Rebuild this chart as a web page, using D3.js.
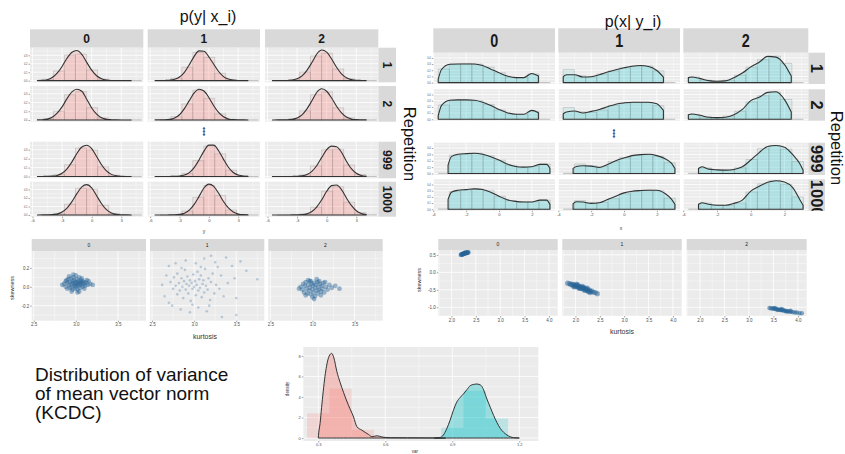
<!DOCTYPE html>
<html>
<head>
<meta charset="utf-8">
<script src="https://cdn.jsdelivr.net/npm/d3@7"></script>
<style>
  body { margin: 0; background: #fff; }
  svg { display: block; }
</style>
</head>
<body>
<svg id="chart" width="845" height="454"></svg>
<script>
// ---------- data ----------
const colLabels = ["0", "1", "2"];
const repLabels = ["1", "2", "999", "1000"];

// p(y | x_i): density of y on a common grid, one row per repetition, [col0, col1, col2]
const yGrid = [-5.5, -5, -4.5, -4, -3.5, -3, -2.5, -2, -1.5, -1, -0.5, 0, 0.5, 1, 1.5, 2, 2.5, 3, 3.5, 4];
const pyxRep1 = [
  [.002, .003, .011, .036, .088, .168, .265, .336, .356, .310, .216, .124, .058, .022, .007, .002, .001, .0005, 0, 0],
  [.0003, .001, .002, .005, .015, .042, .098, .188, .288, .352, .348, .282, .194, .108, .048, .018, .006, .002, .001, 0],
  [0, .0005, .001, .002, .007, .021, .056, .122, .214, .315, .362, .338, .256, .158, .080, .034, .012, .004, .002, .001]
];
const pyxRep2 = [
  [.001, .003, .010, .030, .078, .150, .245, .322, .352, .330, .238, .138, .068, .026, .009, .003, .001, 0, 0, 0],
  [.0005, .001, .002, .007, .022, .060, .130, .222, .310, .352, .332, .258, .164, .086, .036, .012, .004, .002, .001, 0],
  [0, .0005, .001, .002, .008, .023, .059, .128, .220, .318, .358, .330, .252, .158, .082, .035, .012, .004, .002, .001]
];
const pyxRep999 = [
  [.0005, .001, .002, .004, .012, .036, .086, .164, .258, .330, .350, .312, .224, .132, .062, .024, .008, .003, .001, .0005],
  [0, 0, .0003, .001, .002, .005, .016, .044, .100, .186, .284, .352, .352, .288, .192, .104, .045, .016, .005, .002],
  [0, 0, 0, .0005, .001, .002, .007, .022, .058, .124, .214, .300, .340, .334, .272, .172, .088, .036, .012, .003]
];
const pyxRep1000 = [
  [.0005, .001, .002, .004, .011, .034, .080, .156, .250, .330, .356, .318, .226, .132, .062, .024, .008, .003, .001, .0005],
  [0, 0, .0005, .001, .002, .007, .021, .056, .124, .218, .316, .362, .336, .254, .158, .082, .035, .012, .004, .002],
  [0, 0, 0, .0005, .001, .002, .004, .014, .041, .096, .178, .278, .344, .352, .298, .200, .112, .050, .018, .005]
];
// histogram of y: bins start at -5.0, width 1.12
const yBinStart = -5.0, yBinWidth = 1.12;
const histYRep1 = [
  [.016, .114, .302, .313, .126, .019, .001, 0, 0],
  [.002, .028, .157, .334, .275, .087, .010, .001, 0],
  [.001, .013, .101, .292, .324, .138, .023, .001, 0]
];
const histYRep2 = [
  [.013, .098, .290, .325, .142, .024, .002, 0, 0],
  [.003, .038, .184, .342, .248, .070, .008, 0, 0],
  [.001, .014, .104, .290, .322, .140, .024, .002, 0]
];
const histYRep999 = [
  [.001, .021, .132, .319, .297, .108, .015, .001, 0],
  [0, .003, .035, .178, .342, .254, .072, .008, 0],
  [0, .001, .018, .119, .300, .305, .128, .022, .001]
];
const histYRep1000 = [
  [.001, .019, .126, .313, .302, .113, .016, .001, 0],
  [0, .004, .047, .206, .345, .228, .058, .006, 0],
  [0, .001, .011, .091, .280, .331, .150, .027, .002]
];

// p(x | y_i)
const xGridA = [-3.7, -3.5, -3.0, -2.5, -2.0, -1.5, -1.0, -0.5, 0, 0.5, 1.0, 1.5, 2.0, 2.4];
const xGridB = [-3.1, -2.9, -2.5, -2.0, -1.5, -1.0, -0.5, 0, 0.5, 1.0, 1.5, 2.0, 2.5, 2.9, 3.1];
const pxyRep1 = [
  [.053, .212, .297, .302, .302, .302, .276, .217, .159, .106, .080, .080, .148, .106],
  [.095, .127, .127, .090, .095, .127, .170, .207, .239, .265, .276, .260, .196, .090],
  [.080, .090, .064, .032, .021, .027, .080, .154, .254, .329, .424, .413, .292, .106]
];
const pxyRep2 = [
  [.053, .223, .307, .313, .313, .307, .276, .223, .159, .106, .080, .080, .143, .106],
  [.090, .117, .133, .101, .127, .159, .201, .244, .265, .276, .276, .276, .249, .143],
  [.074, .085, .064, .032, .027, .032, .074, .159, .302, .355, .435, .445, .318, .117]
];
const pxyRep999 = [
  [.133, .265, .302, .313, .318, .302, .265, .212, .148, .111, .101, .106, .143, .143, .080],
  [.080, .111, .122, .117, .095, .143, .201, .244, .281, .297, .302, .281, .233, .159, .080],
  [.080, .106, .069, .058, .053, .064, .106, .212, .329, .424, .440, .413, .292, .159, .053]
];
const pxyRep1000 = [
  [.159, .276, .307, .318, .329, .318, .276, .212, .154, .127, .117, .117, .148, .148, .080],
  [.090, .122, .117, .095, .106, .159, .212, .265, .292, .302, .307, .307, .254, .159, .080],
  [.080, .106, .080, .064, .064, .095, .148, .292, .371, .435, .461, .440, .345, .159, .064]
];
// histogram of x: bins start at -3.7, width 0.682
const xBinStart = -3.7, xBinWidth = 0.682;
const histXRep1 = [
  [.22, .30, .31, .30, .25, .16, .09, .08, .14, 0],
  [.21, .11, .09, .14, .19, .24, .27, .27, .19, 0],
  [.09, .04, .02, .04, .12, .25, .37, .43, .31, 0]
];
const histXRep2 = [
  [.23, .31, .31, .30, .24, .15, .09, .08, .13, 0],
  [.19, .12, .11, .15, .22, .26, .27, .27, .22, 0],
  [.08, .04, .02, .05, .13, .28, .38, .44, .32, 0]
];
const histXRep999 = [
  [.005, .29, .31, .32, .28, .21, .13, .10, .11, .15],
  [.003, .15, .12, .11, .19, .25, .29, .30, .27, .17],
  [.003, .09, .06, .05, .09, .22, .39, .44, .38, .19]
];
const histXRep1000 = [
  [.006, .29, .31, .33, .30, .21, .14, .12, .12, .15],
  [.003, .14, .11, .11, .17, .25, .29, .31, .30, .18],
  [.003, .10, .07, .06, .10, .28, .41, .46, .40, .20]
];

// kurtosis / skewness of y per x class
const kurtSkewY0 = [[2.86,0.03],[2.88,0.06],[2.88,0.00],[2.90,0.04],[2.90,-0.02],[2.91,0.08],[2.92,0.02],[2.93,0.05],[2.93,-0.01],[2.94,0.09],[2.95,0.03],[2.95,0.00],[2.96,0.06],[2.96,-0.03],[2.97,0.04],[2.97,0.10],[2.98,0.01],[2.98,0.07],[2.99,0.03],[2.99,-0.02],[3.00,0.05],[3.00,0.00],[3.01,0.08],[3.01,0.02],[3.02,0.04],[3.02,-0.03],[3.03,0.06],[3.03,0.01],[3.04,0.10],[3.04,0.03],[3.05,0.05],[3.05,-0.01],[3.06,0.02],[3.06,0.07],[3.07,0.04],[3.08,0.00],[3.08,0.06],[3.09,0.03],[3.10,0.05],[3.11,0.01],[3.12,0.04],[3.14,0.02],[3.15,0.06],[3.17,0.03],[3.20,0.02],[2.84,0.02],[2.92,0.11],[3.00,0.12],[3.02,-0.06],[2.95,-0.05],[3.07,0.09],[3.10,-0.02],[2.89,0.07],[3.13,0.07],[2.97,0.13],[3.04,-0.05]];
const kurtSkewY1 = [[2.72,0.05],[2.75,-0.02],[2.76,0.10],[2.78,0.01],[2.80,-0.08],[2.80,0.14],[2.82,0.04],[2.83,-0.04],[2.85,0.09],[2.86,0.00],[2.87,-0.12],[2.88,0.06],[2.89,0.18],[2.90,-0.03],[2.91,0.03],[2.92,0.11],[2.93,-0.07],[2.94,0.01],[2.95,0.07],[2.96,-0.15],[2.97,0.04],[2.98,-0.02],[2.99,0.13],[3.00,0.00],[3.01,0.06],[3.02,-0.09],[3.03,0.02],[3.04,0.16],[3.05,-0.04],[3.06,0.08],[3.07,-0.01],[3.08,0.12],[3.09,-0.11],[3.10,0.03],[3.11,0.07],[3.12,-0.06],[3.13,0.19],[3.14,0.01],[3.16,-0.03],[3.17,0.09],[3.19,-0.14],[3.20,0.05],[3.22,0.14],[3.24,-0.07],[3.26,0.02],[3.28,0.21],[3.30,-0.02],[2.62,0.02],[2.65,-0.10],[2.67,0.12],[2.70,0.22],[2.70,-0.17],[2.74,-0.20],[2.78,0.25],[2.84,-0.24],[2.90,0.28],[2.95,-0.27],[3.02,0.25],[3.05,-0.22],[3.12,0.30],[3.15,-0.26],[3.25,0.26],[3.32,0.12],[3.35,-0.10],[3.38,0.31],[3.40,0.04],[3.45,0.22],[3.48,0.09],[3.50,-0.12],[3.55,0.27],[3.50,-0.30],[3.62,0.17],[3.75,0.08],[3.33,-0.32],[3.20,0.33],[2.85,0.20],[2.98,-0.19],[3.08,0.21],[3.18,-0.20]];
const kurtSkewY2 = [[2.86,0.00],[2.88,-0.03],[2.89,0.03],[2.90,-0.06],[2.91,0.01],[2.92,0.05],[2.93,-0.02],[2.94,-0.07],[2.95,0.02],[2.96,-0.04],[2.97,0.06],[2.97,-0.01],[2.98,-0.08],[2.99,0.03],[3.00,-0.03],[3.00,0.01],[3.01,-0.06],[3.02,0.04],[3.03,-0.01],[3.03,-0.10],[3.04,0.02],[3.05,-0.04],[3.06,0.05],[3.06,-0.07],[3.07,0.00],[3.08,-0.03],[3.09,0.03],[3.10,-0.05],[3.11,0.01],[3.12,-0.02],[3.13,0.04],[3.14,-0.06],[3.16,0.00],[3.18,-0.03],[3.20,0.02],[3.23,-0.01],[3.27,0.01],[3.32,-0.02],[2.84,-0.02],[2.95,0.07],[3.00,-0.11],[3.05,0.08],[3.10,-0.09],[2.92,-0.09],[3.15,0.05],[2.98,0.06],[3.08,0.06],[3.02,-0.13]];
// kurtosis / skewness of x per y class
const kurtSkewX0 = [[2.19,0.50],[2.20,0.52],[2.21,0.51],[2.22,0.53],[2.23,0.52],[2.24,0.54],[2.24,0.52],[2.25,0.53],[2.26,0.55],[2.26,0.53],[2.27,0.54],[2.28,0.56],[2.28,0.54],[2.29,0.55],[2.30,0.57],[2.30,0.55],[2.31,0.56],[2.32,0.57],[2.33,0.56],[2.34,0.58],[2.35,0.57],[2.22,0.50],[2.27,0.56],[2.32,0.55]];
const kurtSkewX1 = [[1.84,-0.31],[1.88,-0.32],[1.90,-0.35],[1.93,-0.34],[1.95,-0.37],[1.96,-0.35],[1.98,-0.39],[2.00,-0.37],[2.01,-0.40],[2.03,-0.38],[2.04,-0.42],[2.06,-0.40],[2.07,-0.43],[2.09,-0.41],[2.10,-0.45],[2.12,-0.43],[2.13,-0.46],[2.15,-0.44],[2.16,-0.48],[2.18,-0.46],[2.20,-0.49],[2.21,-0.47],[2.23,-0.51],[2.25,-0.49],[2.27,-0.53],[2.29,-0.51],[2.31,-0.55],[2.34,-0.54],[2.37,-0.57],[2.41,-0.58],[2.45,-0.61],[1.97,-0.42],[2.02,-0.34],[2.08,-0.46],[2.14,-0.40],[2.19,-0.52],[2.24,-0.45],[2.30,-0.58],[2.05,-0.36],[2.17,-0.43],[2.26,-0.55]];
const kurtSkewX2 = [[3.42,-1.02],[3.45,-1.03],[3.48,-1.04],[3.50,-1.03],[3.52,-1.05],[3.55,-1.04],[3.57,-1.06],[3.60,-1.06],[3.62,-1.07],[3.64,-1.08],[3.66,-1.07],[3.68,-1.09],[3.70,-1.08],[3.72,-1.10],[3.75,-1.10],[3.78,-1.11],[3.80,-1.12],[3.83,-1.12],[3.86,-1.13],[3.90,-1.14],[3.94,-1.15],[3.98,-1.15],[4.03,-1.17],[4.08,-1.17],[3.58,-1.08],[3.67,-1.05],[3.76,-1.12],[3.85,-1.10],[3.53,-1.02]];

// distribution of variance of mean vector norm (KCDC)
const varDensRed = [[0.300,0],[0.302,0.5],[0.308,1.4],[0.315,3.0],[0.322,4.5],[0.330,6.0],[0.337,7.0],[0.349,8.0],[0.360,8.25],[0.370,7.8],[0.383,6.5],[0.398,5.4],[0.413,4.45],[0.435,3.2],[0.458,2.05],[0.473,1.1],[0.495,0.77],[0.510,0.55],[0.525,0.35],[0.540,0.13],[0.563,0.22],[0.585,0.10],[0.622,0.03],[0.70,0.02],[0.80,0.01],[0.87,0]];
const varDensCyan = [[0.82,0],[0.845,0.05],[0.86,0.29],[0.875,0.9],[0.89,1.73],[0.905,2.7],[0.92,3.5],[0.935,3.95],[0.95,4.3],[0.965,4.7],[0.98,5.1],[0.995,5.22],[1.01,5.26],[1.02,5.22],[1.03,5.1],[1.04,4.7],[1.055,3.8],[1.07,3.0],[1.085,2.2],[1.10,1.5],[1.115,0.93],[1.13,0.55],[1.145,0.29],[1.16,0.12],[1.175,0.03],[1.20,0]];
const varHistRed = [2.4, 4.8, 0.8, 0.1];   // bins from 0.25, width 0.1
const varHistCyan = [1.0, 4.6, 1.9];       // bins from 0.85, width 0.1
const varBinWidth = 0.1, varRedStart = 0.25, varCyanStart = 0.85;

const topLeftTicksX = [-6, -3, 0, 3], topLeftTicksY = [0, 0.1, 0.2, 0.3];
const topRightTicksX = [-4, -2, 0, 2], topRightTicksY = [0, 0.1, 0.2, 0.3, 0.4];
const scatLeftTicksX = [2.5, 3.0, 3.5], scatLeftTicksY = [-0.2, 0, 0.2];
const scatRightTicksX = [2.0, 2.5, 3.0, 3.5, 4.0], scatRightTicksY = [-1.0, -0.5, 0, 0.5];
const varTicksX = [0.3, 0.6, 0.9, 1.2], varTicksY = [0, 2, 4, 6, 8];

// ---------- drawing ----------
const svg = d3.select("#chart");
const FONT = "'Liberation Sans', Arial, sans-serif";
const panelFill = "#EBEBEB", stripFill = "#D9D9D9";
const RED = "#F8766D", CYAN = "#00BFC4", DOT = "#2a6698";

// soft edge for the dense point clouds
svg.append("defs").append("filter").attr("id", "soft")
  .append("feGaussianBlur").attr("stdDeviation", 0.5);

function minorsOf(majors, domain) {
  const s = majors[1] - majors[0], out = [];
  for (let v = majors[0] - s / 2; v <= domain[1]; v += s) if (v >= domain[0]) out.push(v);
  return out;
}

function panelBg(g, xs, ys, xMaj, yMaj) {
  const [x0, x1] = xs.range(), [yb, yt] = ys.range();
  g.append("rect").attr("x", x0).attr("y", yt).attr("width", x1 - x0).attr("height", yb - yt).attr("fill", panelFill);
  const xin = xMaj.filter(v => v >= xs.domain()[0] && v <= xs.domain()[1]);
  const yin = yMaj.filter(v => v >= ys.domain()[0] && v <= ys.domain()[1]);
  const lines = (vals, vertical, w) => g.append("g").selectAll("line").data(vals).join("line")
    .attr("x1", d => vertical ? xs(d) : x0).attr("x2", d => vertical ? xs(d) : x1)
    .attr("y1", d => vertical ? yt : ys(d)).attr("y2", d => vertical ? yb : ys(d))
    .attr("stroke", "#fff").attr("stroke-width", w);
  lines(minorsOf(xMaj, xs.domain()), true, 0.4);
  lines(minorsOf(yMaj, ys.domain()), false, 0.4);
  lines(xin, true, 0.8);
  lines(yin, false, 0.8);
}

function axisBottom(g, xs, y, ticks, fmt, size) {
  const a = g.append("g").attr("transform", `translate(0,${y})`)
    .call(d3.axisBottom(xs).tickValues(ticks).tickSize(1.5).tickPadding(1).tickFormat(fmt));
  a.select(".domain").remove();
  a.selectAll("line").attr("stroke", "#444").attr("stroke-width", 0.5);
  a.selectAll("text").attr("fill", "#4d4d4d").style("font-size", size + "px").style("font-family", FONT);
}
function axisLeft(g, ys, x, ticks, fmt, size) {
  const a = g.append("g").attr("transform", `translate(${x},0)`)
    .call(d3.axisLeft(ys).tickValues(ticks).tickSize(1.5).tickPadding(1).tickFormat(fmt));
  a.select(".domain").remove();
  a.selectAll("line").attr("stroke", "#444").attr("stroke-width", 0.5);
  a.selectAll("text").attr("fill", "#4d4d4d").style("font-size", size + "px").style("font-family", FONT);
}

// strip box with label; o.rotate for the right-hand row strips, o.squeeze narrows the glyphs,
// o.fromTop starts a long label at the top edge so that the clip cuts its end
function strip(g, x0, x1, y0, y1, label, font, o = {}) {
  g.append("rect").attr("x", x0).attr("y", y0).attr("width", x1 - x0).attr("height", y1 - y0).attr("fill", stripFill);
  const cx = (x0 + x1) / 2, cy = (y0 + y1) / 2;
  let tg = g;
  if (o.clipId) {
    g.append("clipPath").attr("id", o.clipId).append("rect")
      .attr("x", x0).attr("y", y0).attr("width", x1 - x0).attr("height", y1 - y0);
    tg = g.append("g").attr("clip-path", `url(#${o.clipId})`);
  }
  const long = o.fromTop && label.length > 3;
  const ty = long ? y0 + 0.5 : cy;
  tg.append("text")
    .attr("transform", `translate(${cx},${ty})` + (o.rotate ? " rotate(90)" : "") + (o.squeeze ? ` scale(${o.squeeze},1)` : ""))
    .attr("text-anchor", long ? "start" : "middle").attr("dy", "0.36em")
    .style("font", font).attr("fill", "#1a1a1a").text(label);
}

function densityFacet(o) {
  const g = svg.append("g");
  o.cols.forEach((c, ci) => strip(g, c[0], c[1], o.stripY[0], o.stripY[1], colLabels[ci], o.stripFont, { squeeze: o.squeeze }));
  o.rows.forEach((r, ri) => {
    strip(g, o.rowStripX[0], o.rowStripX[1], r[0], r[1], repLabels[ri], o.rowFont,
      { rotate: true, clipId: o.clip ? o.clip + ri : null, fromTop: !!o.clip });
    o.cols.forEach((c, ci) => {
      const xs = d3.scaleLinear().domain(o.xDomain).range(c);
      const ys = d3.scaleLinear().domain(o.yDomain).range([r[1], r[0]]);
      panelBg(g, xs, ys, o.xTicks, o.yTicks);
      const base = ys(0);
      g.append("g").selectAll("path").data(o.hist[ri][ci]).join("path")
        .attr("d", (h, i) => {
          const a = xs(o.binStart + i * o.binWidth), b = xs(o.binStart + (i + 1) * o.binWidth);
          return `M${a},${base}V${ys(h)}H${b}V${base}Z`;
        })
        .attr("fill", o.color).attr("fill-opacity", o.histAlpha)
        .attr("stroke", "#808080").attr("stroke-opacity", 0.55).attr("stroke-width", 0.5);
      const pts = o.grids[ri].map((x, i) => [x, o.dens[ri][ci][i]]);
      const area = d3.area().x(d => xs(d[0])).y0(base).y1(d => ys(d[1])).curve(d3.curveMonotoneX);
      g.append("path").datum(pts).attr("d", area)
        .attr("fill", o.color).attr("fill-opacity", o.densAlpha)
        .attr("stroke", "#333").attr("stroke-width", 1.1).attr("stroke-linejoin", "round");
      if (ri === o.rows.length - 1) axisBottom(g, xs, r[1], o.xTicks, d => String(d), 4.2);
      if (ci === 0) axisLeft(g, ys, c[0], o.yTicks, d => d.toFixed(1), 2.6);
    });
  });
  return g;
}

function scatterFacet(o) {
  const g = svg.append("g");
  o.cols.forEach((c, ci) => {
    strip(g, c[0], c[1], o.stripY[0], o.stripY[1], colLabels[ci], `5px ${FONT}`);
    const xs = d3.scaleLinear().domain(o.xDomain).range(c);
    const ys = d3.scaleLinear().domain(o.yDomain).range([o.panelY[1], o.panelY[0]]);
    panelBg(g, xs, ys, o.xTicks, o.yTicks);
    const pg = g.append("g");
    if (o.soft[ci]) pg.attr("filter", "url(#soft)");
    pg.selectAll("circle").data(o.points[ci]).join("circle")
      .attr("cx", d => xs(d[0])).attr("cy", d => ys(d[1])).attr("r", o.r[ci])
      .attr("fill", DOT).attr("fill-opacity", o.alpha[ci]);
    axisBottom(g, xs, o.panelY[1], o.xTicks, d => d.toFixed(1), 4.5);
    if (ci === 0) axisLeft(g, ys, c[0], o.yTicks, d => d.toFixed(1), 4.5);
  });
  return g;
}

// top left: p(y | x_i)
densityFacet({
  cols: [[30, 143.3], [147.7, 260], [265, 378.3]],
  rows: [[47.7, 82.3], [86, 121.7], [141.7, 178.3], [181.7, 216.7]],
  stripY: [29.3, 47.7], rowStripX: [378.3, 396],
  xDomain: [-6.25, 5.23], yDomain: [-0.02, 0.39],
  xTicks: topLeftTicksX, yTicks: topLeftTicksY,
  grids: [yGrid, yGrid, yGrid, yGrid],
  dens: [pyxRep1, pyxRep2, pyxRep999, pyxRep1000],
  hist: [histYRep1, histYRep2, histYRep999, histYRep1000],
  binStart: yBinStart, binWidth: yBinWidth, color: RED, histAlpha: 0.11, densAlpha: 0.18,
  stripFont: `bold 12px ${FONT}`, rowFont: `bold 12px ${FONT}`
});

// top right: p(x | y_i)
densityFacet({
  cols: [[433.3, 555], [558.3, 680], [683.3, 808.3]],
  rows: [[52.7, 84], [89.3, 120.7], [142.7, 175], [179.3, 210.7]],
  stripY: [28.3, 52.7], rowStripX: [808.3, 825],
  xDomain: [-4.0, 3.41], yDomain: [-0.023, 0.484],
  xTicks: topRightTicksX, yTicks: topRightTicksY,
  grids: [xGridA, xGridA, xGridB, xGridB],
  dens: [pxyRep1, pxyRep2, pxyRep999, pxyRep1000],
  hist: [histXRep1, histXRep2, histXRep999, histXRep1000],
  binStart: xBinStart, binWidth: xBinWidth, color: CYAN, histAlpha: 0.09, densAlpha: 0.17,
  stripFont: `bold 18px ${FONT}`, squeeze: 0.8, rowFont: `bold 16.5px ${FONT}`, clip: "rstrip"
});

// scatter rows
scatterFacet({
  cols: [[31.7, 146], [150, 264.3], [268.3, 382.7]],
  stripY: [239, 251], panelY: [251, 320.7],
  xDomain: [2.476, 3.833], yDomain: [-0.36, 0.38],
  xTicks: scatLeftTicksX, yTicks: scatLeftTicksY,
  points: [kurtSkewY0, kurtSkewY1, kurtSkewY2], r: [2.4, 1.3, 2.4], alpha: [0.45, 0.28, 0.45],
  soft: [true, false, true]
});
scatterFacet({
  cols: [[438.3, 557.7], [562.3, 681.7], [686.7, 806.7]],
  stripY: [239, 250], panelY: [250, 316],
  xDomain: [1.73, 4.18], yDomain: [-1.25, 0.64],
  xTicks: scatRightTicksX, yTicks: scatRightTicksY,
  points: [kurtSkewX0, kurtSkewX1, kurtSkewX2], r: [2.2, 2.6, 2.2], alpha: [0.55, 0.5, 0.55],
  soft: [true, true, true]
});

// bottom: variance density
(function () {
  const g = svg.append("g");
  const xs = d3.scaleLinear().domain([0.233, 1.285]).range([303.3, 538.3]);
  const ys = d3.scaleLinear().domain([-0.29, 8.87]).range([441, 347]);
  panelBg(g, xs, ys, varTicksX, varTicksY);
  const base = ys(0);
  const bars = (vals, start, col) => g.append("g").selectAll("rect").data(vals).join("rect")
    .attr("x", (h, i) => xs(start + i * varBinWidth)).attr("width", xs(varBinWidth) - xs(0))
    .attr("y", h => ys(h)).attr("height", h => base - ys(h))
    .attr("fill", col).attr("fill-opacity", 0.2);
  bars(varHistRed, varRedStart, RED);
  bars(varHistCyan, varCyanStart, CYAN);
  const area = d3.area().x(d => xs(d[0])).y0(base).y1(d => ys(d[1])).curve(d3.curveMonotoneX);
  [[varDensRed, RED], [varDensCyan, CYAN]].forEach(([pts, col]) => {
    g.append("path").datum(pts).attr("d", area).attr("fill", col).attr("fill-opacity", 0.35)
      .attr("stroke", "#333").attr("stroke-width", 1).attr("stroke-linejoin", "round");
  });
  axisBottom(g, xs, 441, varTicksX, d => d.toFixed(1), 4);
  axisLeft(g, ys, 303.3, varTicksY, d => String(d), 4);
  g.append("text").attr("x", 415).attr("y", 453).attr("text-anchor", "middle")
    .style("font", `4.5px ${FONT}`).attr("fill", "#333").text("var");
  g.append("text").attr("transform", "translate(289,389) rotate(-90)").attr("text-anchor", "middle")
    .style("font", `4.5px ${FONT}`).attr("fill", "#333").text("density");
})();

// titles and labels
const txt = (x, y, s, size, opts = {}) => svg.append("text").attr("x", x).attr("y", y)
  .attr("text-anchor", opts.anchor || "middle").style("font", `${size}px ${FONT}`)
  .attr("fill", opts.fill || "#111").text(s);
txt(208, 22, "p(y| x_i)", 16);
txt(633, 27, "p(x| y_i)", 16);
svg.append("text").attr("transform", "translate(410,144) rotate(90)").attr("text-anchor", "middle")
  .attr("dy", "0.36em").style("font", `16.5px ${FONT}`).attr("fill", "#111").text("Repetition");
svg.append("text").attr("transform", "translate(837,148) rotate(90)").attr("text-anchor", "middle")
  .attr("dy", "0.36em").style("font", `16.5px ${FONT}`).attr("fill", "#111").text("Repetition");
txt(204, 233, "y", 5, { fill: "#333" });
txt(621, 230, "x", 5, { fill: "#333" });
txt(205, 339, "kurtosis", 7, { fill: "#333" });
txt(622, 334, "kurtosis", 7, { fill: "#333" });
svg.append("text").attr("transform", "translate(14,288) rotate(-90)").attr("text-anchor", "middle")
  .style("font", `5.5px ${FONT}`).attr("fill", "#333").text("skewness");
svg.append("text").attr("transform", "translate(421,280) rotate(-90)").attr("text-anchor", "middle")
  .style("font", `5.5px ${FONT}`).attr("fill", "#333").text("skewness");

// vertical ellipsis between repetition 2 and 999
[[204, 128.5], [614, 130.5]].forEach(([x, y]) => {
  svg.append("g").selectAll("circle").data([0, 3, 6]).join("circle")
    .attr("cx", x).attr("cy", d => y + d).attr("r", 1.2).attr("fill", "#3367a8");
});

["Distribution of variance", "of mean vector norm", "(KCDC)"].forEach((s, i) => {
  txt(35, 381 + i * 19, s, 19, { anchor: "start" });
});
</script>
</body>
</html>
